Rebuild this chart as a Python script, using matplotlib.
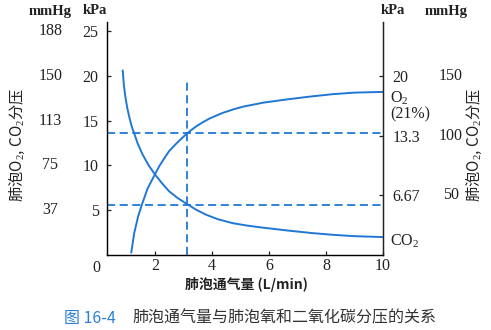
import matplotlib.pyplot as plt

# Alveolar ventilation (L/min) vs alveolar partial pressure (kPa)
o2_vent = [1.17, 1.27, 1.41, 1.54, 1.74, 2.0, 2.15, 2.33, 2.5, 2.74, 2.9, 3.12, 3.4, 3.67, 3.93, 4.37,
           4.8, 5.09, 5.8, 6.6, 7.5, 8.25, 9.0, 10.0]
o2_kpa = [0.26, 2.4, 4.3, 5.6, 7.4, 9.0, 9.9, 10.8, 11.6, 12.4, 12.9, 13.55, 14.25, 14.8, 15.25, 15.85,
          16.3, 16.55, 17.0, 17.35, 17.7, 17.95, 18.12, 18.2]

co2_vent = [0.87, 0.91, 0.96, 1.03, 1.10, 1.18, 1.27, 1.4, 1.57, 1.78, 2.0, 2.25, 2.5, 2.8, 3.12, 3.45,
            3.79, 4.2, 4.73, 5.2, 5.66, 6.6, 7.5, 8.25, 9.0, 10.0]
co2_kpa = [20.6, 19.0, 17.7, 16.4, 15.4, 14.4, 13.6, 12.4, 11.2, 10.0, 9.0, 8.0, 7.1, 6.35, 5.7, 5.05,
           4.5, 4.0, 3.55, 3.3, 3.1, 2.75, 2.45, 2.25, 2.1, 2.0]

ref_vent = 3.12
ref_o2 = 13.65
ref_co2 = 5.58

x_ticks = [2, 4, 6, 8, 10]
left_kpa = [5, 10, 15, 20, 25]
left_mmhg = ["37", "75", "113", "150", "188"]
right_kpa = [6.67, 13.3, 20]
right_kpa_labels = ["6.67", "13.3", "20"]
right_mmhg = ["50", "100", "150"]

BLUE = "#1f78d4"
INK = "#222222"
NUM_FONT = "Liberation Serif"
CJK = ["Noto Sans CJK SC", "DejaVu Sans"]
FS = 11.5

plt.rcParams["mathtext.fontset"] = "custom"
plt.rcParams["mathtext.rm"] = NUM_FONT

fig = plt.figure(figsize=(4.91, 3.30), dpi=100)
ax = fig.add_axes([0.218, 0.2273, 0.562, 0.706])

ax.plot(o2_vent, o2_kpa, color=BLUE, lw=1.4, solid_capstyle="round", solid_joinstyle="round")
ax.plot(co2_vent, co2_kpa, color=BLUE, lw=1.4, solid_capstyle="round", solid_joinstyle="round")

dash = (0, (4.5, 2.5))
ax.plot([ref_vent, ref_vent], [0, 19.6], color=BLUE, lw=1.3, linestyle=dash)
ax.plot([0.32, 10], [ref_o2, ref_o2], color=BLUE, lw=1.3, linestyle=dash)
ax.plot([0.32, 10], [ref_co2, ref_co2], color=BLUE, lw=1.3, linestyle=dash)

ax.set_xlim(0.32, 10)
ax.set_ylim(0, 26)
ax.spines["top"].set_visible(False)
for side in ("left", "right", "bottom"):
    ax.spines[side].set_color(INK)
    ax.spines[side].set_linewidth(1.0)

ax.set_xticks(x_ticks)
ax.set_xticklabels([str(v) for v in x_ticks], fontfamily=NUM_FONT, fontsize=FS, color=INK)
ax.set_yticks(left_kpa)
ax.set_yticklabels([str(v) for v in left_kpa], fontfamily=NUM_FONT, fontsize=FS, color=INK)
ax.tick_params(direction="in", length=3, width=0.9, color=INK)
ax.tick_params(axis="x", pad=2)
ax.tick_params(axis="y", pad=6)

rax = ax.twinx()
rax.set_ylim(ax.get_ylim())
rax.spines["top"].set_visible(False)
rax.spines["right"].set_color(INK)
rax.set_yticks(right_kpa)
rax.set_yticklabels(right_kpa_labels, fontfamily=NUM_FONT, fontsize=FS, color=INK)
rax.tick_params(direction="in", length=3, width=0.9, color=INK, pad=7)

# corner zero shared by both axes
ax.text(-0.04, -0.02, "0", transform=ax.transAxes, ha="center", va="top",
        fontfamily=NUM_FONT, fontsize=FS, color=INK)

# mmHg columns beside the kPa tick labels
for kpa, mm in zip(left_kpa, left_mmhg):
    ax.text(-0.205, kpa, mm, transform=ax.get_yaxis_transform(), ha="center", va="center",
            fontfamily=NUM_FONT, fontsize=FS, color=INK)
for kpa, mm in zip(right_kpa, right_mmhg):
    ax.text(1.245, kpa, mm, transform=ax.get_yaxis_transform(), ha="center", va="center",
            fontfamily=NUM_FONT, fontsize=FS, color=INK)

# unit headers
head = dict(fontfamily=NUM_FONT, fontsize=10.5, color=INK, fontweight="bold", ha="center", va="center")
fig.text(50 / 491, 1 - 11 / 330, "mmHg", **head)
fig.text(95 / 491, 1 - 11 / 330, "kPa", **head)
fig.text(393 / 491, 1 - 11 / 330, "kPa", **head)
fig.text(446 / 491, 1 - 11 / 330, "mmHg", **head)

# curve labels
ax.text(1.025, 17.5, "O$_2$", transform=ax.get_yaxis_transform(), ha="left", va="center",
        fontfamily=NUM_FONT, fontsize=FS, color=INK)
ax.text(1.025, 15.7, "(21%)", transform=ax.get_yaxis_transform(), ha="left", va="center",
        fontfamily=NUM_FONT, fontsize=FS, color=INK)
ax.text(1.025, 1.6, "CO$_2$", transform=ax.get_yaxis_transform(), ha="left", va="center",
        fontfamily=NUM_FONT, fontsize=FS, color=INK)

ylab = "肺泡O$_2$, CO$_2$分压"
fig.text(17 / 491, 1 - 145 / 330, ylab, rotation=90, ha="center", va="center",
         family=CJK, fontsize=11, color=INK)
fig.text(474 / 491, 1 - 145 / 330, ylab, rotation=90, ha="center", va="center",
         family=CJK, fontsize=11, color=INK)

fig.text(246 / 491, 1 - 284 / 330, "肺泡通气量 (L/min)", ha="center", va="center",
         family=CJK, fontsize=10, color=INK, fontweight="bold")

# figure caption
fig.text(64 / 491, 1 - 318 / 330, "图 16-4", ha="left", va="center",
         family=CJK, fontsize=11.5, color="#2b7fd6")
fig.text(132 / 491, 1 - 318 / 330, "肺泡通气量与肺泡氧和二氧化碳分压的关系", ha="left", va="center",
         family=CJK, fontsize=11.5, color="#333333")

fig.savefig("out.png", dpi=100)
